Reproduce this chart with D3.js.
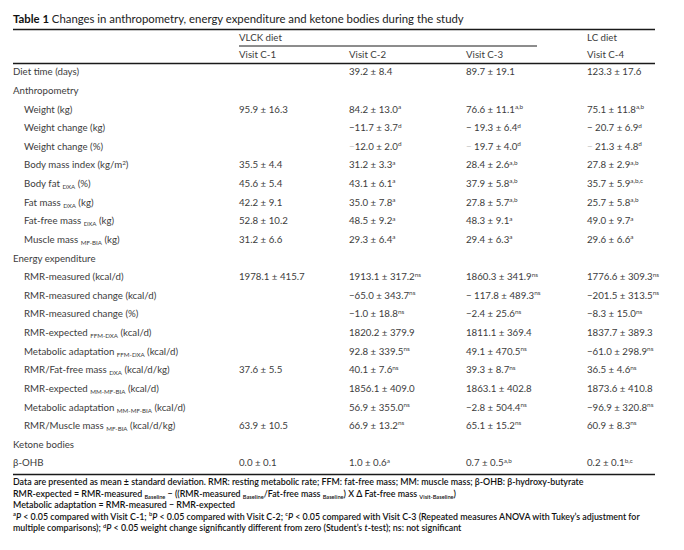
<!DOCTYPE html>
<html>
<head>
<meta charset="utf-8">
<script src="https://cdn.jsdelivr.net/npm/d3@7"></script>
<style>
  body { margin: 0; background: #fff; }
  svg text { font-family: Lato, "Open Sans", sans-serif; }
</style>
</head>
<body>
<svg id="chart" width="684" height="550"></svg>
<script>
// markup used in the strings below:
//   ^{..} superscript, _{..} subscript, *..* italic, ~{..} faded text

var titleBold = 'Table 1';
var titleText = ' Changes in anthropometry, energy expenditure and ketone bodies during the study';

var dietGroups = [
  { label: 'VLCK diet', from: 'C1', to: 'C3' },
  { label: 'LC diet', from: 'C4', to: 'C4' }
];

var visitKeys   = ['C1', 'C2', 'C3', 'C4'];
var visitLabels = ['Visit C-1', 'Visit C-2', 'Visit C-3', 'Visit C-4'];

var rowLabels = [
  'Diet time (days)',
  'Anthropometry',
  'Weight (kg)',
  'Weight change (kg)',
  'Weight change (%)',
  'Body mass index (kg/m^{2})',
  'Body fat _{DXA} (%)',
  'Fat mass _{DXA} (kg)',
  'Fat-free mass _{DXA} (kg)',
  'Muscle mass _{MF-BIA} (kg)',
  'Energy expenditure',
  'RMR-measured (kcal/d)',
  'RMR-measured change (kcal/d)',
  'RMR-measured change (%)',
  'RMR-expected _{FFM-DXA} (kcal/d)',
  'Metabolic adaptation _{FFM-DXA} (kcal/d)',
  'RMR/Fat-free mass _{DXA} (kcal/d/kg)',
  'RMR-expected _{MM-MF-BIA} (kcal/d)',
  'Metabolic adaptation _{MM-MF-BIA} (kcal/d)',
  'RMR/Muscle mass _{MF-BIA} (kcal/d/kg)',
  'Ketone bodies',
  'β-OHB'
];

// 0 = section level, 1 = indented
var rowIndent = [0, 0, 1, 1, 1, 1, 1, 1, 1, 1, 0, 1, 1, 1, 1, 1, 1, 1, 1, 1, 0, 0];

var visitC1 = [
  '', '', '95.9 ± 16.3', '', '', '35.5 ± 4.4', '45.6 ± 5.4', '42.2 ± 9.1',
  '52.8 ± 10.2', '31.2 ± 6.6', '', '1978.1 ± 415.7', '', '', '', '',
  '37.6 ± 5.5', '', '', '63.9 ± 10.5', '', '0.0 ± 0.1'
];

var visitC2 = [
  '39.2 ± 8.4', '', '84.2 ± 13.0^{a}', '−11.7 ± 3.7^{d}', '~{−}12.0 ± 2.0^{d}',
  '31.2 ± 3.3^{a}', '43.1 ± 6.1^{a}', '35.0 ± 7.8^{a}', '48.5 ± 9.2^{a}',
  '29.3 ± 6.4^{a}', '', '1913.1 ± 317.2^{ns}', '−65.0 ± 343.7^{ns}',
  '−1.0 ± 18.8^{ns}', '1820.2 ± 379.9', '92.8 ± 339.5^{ns}', '40.1 ± 7.6^{ns}',
  '1856.1 ± 409.0', '56.9 ± 355.0^{ns}', '66.9 ± 13.2^{ns}', '', '1.0 ± 0.6^{a}'
];

var visitC3 = [
  '89.7 ± 19.1', '', '76.6 ± 11.1^{a,b}', '− 19.3 ± 6.4^{d}', '~{−} 19.7 ± 4.0^{d}',
  '28.4 ± 2.6^{a,b}', '37.9 ± 5.8^{a,b}', '27.8 ± 5.7^{a,b}', '48.3 ± 9.1^{a}',
  '29.4 ± 6.3^{a}', '', '1860.3 ± 341.9^{ns}', '− 117.8 ± 489.3^{ns}',
  '−2.4 ± 25.6^{ns}', '1811.1 ± 369.4', '49.1 ± 470.5^{ns}', '39.3 ± 8.7^{ns}',
  '1863.1 ± 402.8', '−2.8 ± 504.4^{ns}', '65.1 ± 15.2^{ns}', '', '0.7 ± 0.5^{a,b}'
];

var visitC4 = [
  '123.3 ± 17.6', '', '75.1 ± 11.8^{a,b}', '− 20.7 ± 6.9^{d}', '~{−} 21.3 ± 4.8^{d}',
  '27.8 ± 2.9^{a,b}', '35.7 ± 5.9^{a,b,c}', '25.7 ± 5.8^{a,b}', '49.0 ± 9.7^{a}',
  '29.6 ± 6.6^{a}', '', '1776.6 ± 309.3^{ns}', '−201.5 ± 313.5^{ns}',
  '−8.3 ± 15.0^{ns}', '1837.7 ± 389.3', '−61.0 ± 298.9^{ns}', '36.5 ± 4.6^{ns}',
  '1873.6 ± 410.8', '−96.9 ± 320.8^{ns}', '60.9 ± 8.3^{ns}', '', '0.2 ± 0.1^{b,c}'
];

var footnotes = [
  'Data are presented as mean ± standard deviation. RMR: resting metabolic rate; FFM: fat-free mass; MM: muscle mass; β-OHB: β-hydroxy-butyrate',
  'RMR-expected = RMR-measured _{Baseline} − ((RMR-measured _{Baseline}/Fat-free mass _{Baseline}) X Δ Fat-free mass _{Visit-Baseline})',
  'Metabolic adaptation = RMR-measured − RMR-expected',
  '^{a}*P* < 0.05 compared with Visit C-1; ^{b}*P* < 0.05 compared with Visit C-2; ^{c}*P* < 0.05 compared with Visit C-3 (Repeated measures ANOVA with Tukey’s adjustment for',
  'multiple comparisons); ^{d}*P* < 0.05 weight change significantly different from zero (Student’s *t*-test); ns: not significant'
];

/**
 * Layout
 */
var svg = d3.select('#chart');

var tableLeft  = 13;
var tableRight = 655;
var indentX    = 24;
var textColor  = '#3c3c3c';
var lineColor  = '#1a1a1a';

var x = d3.scaleOrdinal()
  .domain(visitKeys)
  .range([239, 349, 466, 587]);

var y = d3.scalePoint()
  .domain(d3.range(rowLabels.length))
  .range([72, 463]);

var visitValues = { C1: visitC1, C2: visitC2, C3: visitC3, C4: visitC4 };

/**
 * Append rich text pieces (sup/sub/italic/faded) as tspans
 */
function richText(sel, str, size) {
  var parts = str.split(/(\^\{[^}]*\}|_\{[^}]*\}|\*[^*]*\*|~\{[^}]*\})/);
  var shift = 0;
  parts.forEach(function (p) {
    if (!p) return;
    var t = sel.append('tspan');
    var dy = 0;
    if (p[0] === '^' && p[1] === '{') {
      t.text(p.slice(2, -1)).style('font-size', (size * 0.66) + 'px');
      dy = -size * 0.38;
    } else if (p[0] === '_' && p[1] === '{') {
      t.text(p.slice(2, -1)).style('font-size', (size * 0.64) + 'px');
      dy = size * 0.22;
    } else if (p[0] === '*') {
      t.text(p.slice(1, -1)).style('font-style', 'italic');
    } else if (p[0] === '~' && p[1] === '{') {
      t.text(p.slice(2, -1)).attr('fill', '#c4c4c4');
    } else {
      t.text(p);
    }
    t.attr('dy', dy - shift);
    shift = dy;
  });
}

// title, sized so it spans the same width as in the printed table
var title = svg.append('text')
  .attr('x', tableLeft)
  .attr('y', 22.5)
  .attr('fill', '#222')
  .style('font-size', '11px');
title.append('tspan').text(titleBold).style('font-weight', 'bold').attr('fill', '#111');
title.append('tspan').text(titleText);
var titleLen = title.node().getComputedTextLength();
title.style('font-size', (11 * 451 / titleLen) + 'px');

// rules
function rule(y0, x0, x1, w) {
  svg.append('line')
    .attr('x1', x0).attr('x2', x1)
    .attr('y1', y0).attr('y2', y0)
    .attr('stroke', lineColor)
    .attr('stroke-width', w);
}
rule(29.5, tableLeft, tableRight, 1.4);
rule(46, x('C1'), 537, 1);
rule(63.5, tableLeft, tableRight, 1.4);
rule(474.5, tableLeft, tableRight, 1.4);

// header
var header = svg.append('g').attr('class', 'header');

header.selectAll('text.diet')
  .data(dietGroups)
  .enter()
  .append('text')
  .attr('class', 'diet')
  .attr('x', function (d) { return x(d.from); })
  .attr('y', 40.5)
  .attr('fill', textColor)
  .style('font-size', '9.7px')
  .text(function (d) { return d.label; });

header.selectAll('text.visit')
  .data(visitKeys)
  .enter()
  .append('text')
  .attr('class', 'visit')
  .attr('x', function (d) { return x(d); })
  .attr('y', 57.5)
  .attr('fill', textColor)
  .style('font-size', '9.7px')
  .text(function (d, i) { return visitLabels[i]; });

// body rows
var rows = svg.append('g').attr('class', 'rows')
  .selectAll('g.row')
  .data(rowLabels)
  .enter()
  .append('g')
  .attr('class', 'row')
  .attr('transform', function (d, i) { return 'translate(0,' + (y(i) + 3.4) + ')'; });

rows.append('text')
  .attr('x', function (d, i) { return rowIndent[i] ? indentX : tableLeft; })
  .attr('fill', textColor)
  .style('font-size', '9.7px')
  .each(function (d) { richText(d3.select(this), d, 9.7); });

visitKeys.forEach(function (key) {
  rows.append('text')
    .attr('x', x(key))
    .attr('fill', textColor)
    .style('font-size', '9.7px')
    .each(function (d, i) {
      var v = visitValues[key][i];
      if (v) richText(d3.select(this), v, 9.7);
    });
});

// footnotes
svg.append('g').attr('class', 'footnotes')
  .selectAll('text')
  .data(footnotes)
  .enter()
  .append('text')
  .attr('x', tableLeft)
  .attr('y', function (d, i) { return 485 + i * 11.6; })
  .attr('fill', '#111')
  .style('font-size', '8.85px')
  .style('font-weight', 600)
  .each(function (d) { richText(d3.select(this), d, 8.85); });
</script>
</body>
</html>
